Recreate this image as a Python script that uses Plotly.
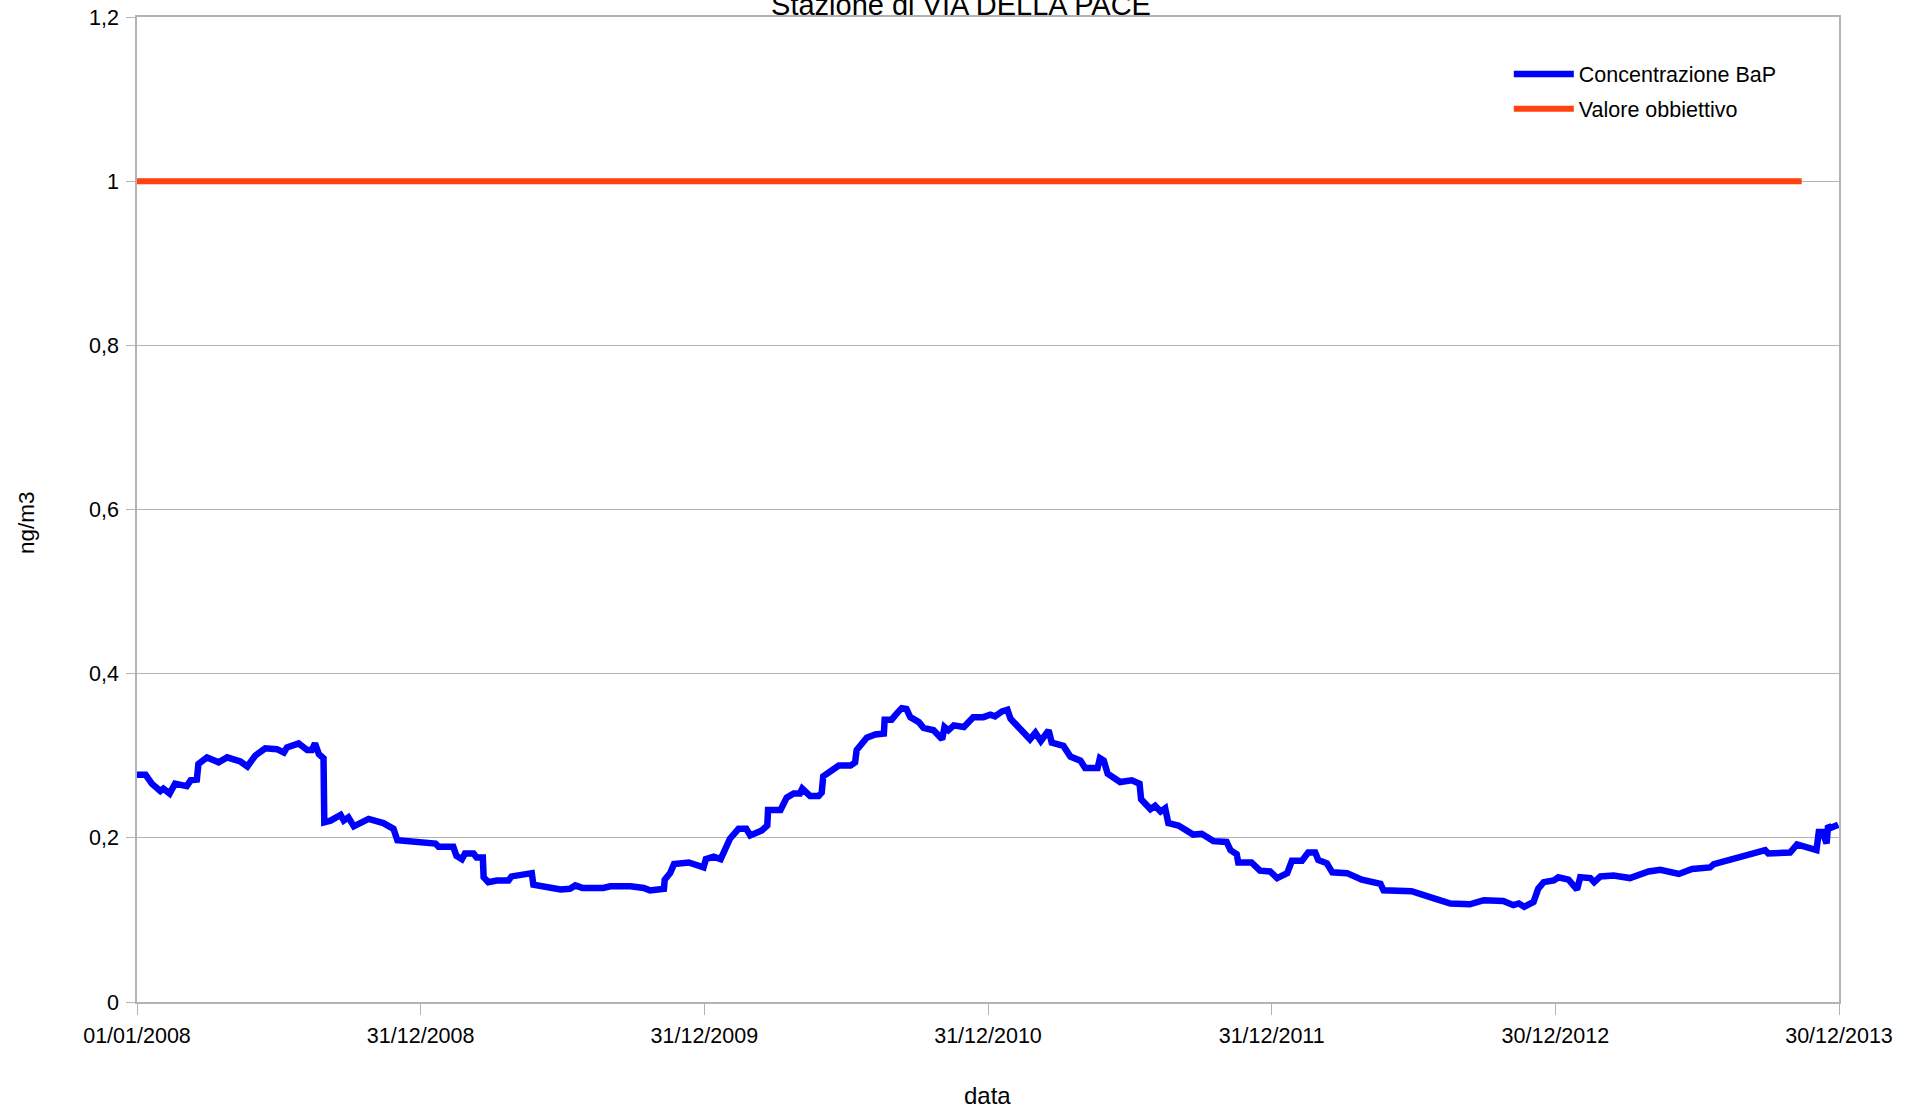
import pandas as pd
import plotly.graph_objects as go

# ---------------- data ----------------
title_text = "Stazione di VIA DELLA PACE"
x_title = "data"
y_title = "ng/m3"
series_names = ["Concentrazione BaP", "Valore obbiettivo"]

start_date = "2008-01-01"

# days elapsed since start_date for each reading of the BaP series
bap_days = [
    0, 11, 19, 30, 34, 42, 49, 64, 69, 77, 79, 90, 105, 116, 133, 142, 152, 165, 180, 189,
    193, 208, 219, 225, 229, 234, 240, 241, 249, 262, 266, 272, 279, 287, 298, 317, 330, 335,
    356, 384, 388, 407, 411, 418, 422, 433, 437, 445, 446, 452, 463, 478, 482, 500, 508, 510,
    528, 545, 557, 564, 573, 600, 609, 635, 652, 660, 678, 679, 686, 691, 710, 729, 732, 742,
    751, 757, 763, 774, 784, 789, 804, 811, 812, 828, 836, 845, 853, 856, 866, 877, 881, 883,
    892, 903, 918, 924, 926, 933, 939, 950, 961, 962, 971, 978, 984, 990, 995, 1006, 1012,
    1025, 1031, 1036, 1039, 1044, 1051, 1064, 1076, 1089, 1098, 1104, 1113, 1120, 1124, 1134,
    1143, 1149, 1156, 1163, 1173, 1177, 1192, 1201, 1214, 1220, 1236, 1239, 1244, 1249, 1265,
    1280, 1290, 1292, 1304, 1310, 1317, 1323, 1327, 1340, 1359, 1370, 1385, 1402, 1407, 1415,
    1417, 1434, 1445, 1458, 1467, 1480, 1486, 1499, 1507, 1516, 1520, 1531, 1538, 1557, 1576,
    1600, 1604, 1625, 1640, 1673, 1690, 1715, 1733, 1758, 1771, 1778, 1785, 1797, 1803, 1810,
    1823, 1829, 1842, 1853, 1857, 1870, 1875, 1883, 1900, 1921, 1945, 1960, 1984, 2001, 2024,
    2029, 2048, 2067, 2082, 2095, 2099, 2127, 2136, 2153, 2161, 2164, 2169, 2174, 2176, 2179,
    2189,
]
bap_values = [
    0.277, 0.277, 0.266, 0.257, 0.260, 0.254, 0.266, 0.263, 0.270, 0.271, 0.290, 0.298, 0.292,
    0.298, 0.293, 0.287, 0.300, 0.309, 0.308, 0.304, 0.310, 0.315, 0.307, 0.307, 0.315, 0.302,
    0.297, 0.219, 0.221, 0.228, 0.221, 0.225, 0.214, 0.218, 0.223, 0.218, 0.211, 0.197, 0.195,
    0.193, 0.189, 0.189, 0.178, 0.174, 0.181, 0.181, 0.176, 0.176, 0.152, 0.146, 0.148, 0.148,
    0.153, 0.156, 0.157, 0.143, 0.139, 0.137, 0.138, 0.142, 0.139, 0.139, 0.141, 0.141, 0.139,
    0.136, 0.138, 0.149, 0.157, 0.168, 0.170, 0.164, 0.174, 0.177, 0.174, 0.189, 0.199, 0.211,
    0.211, 0.203, 0.209, 0.215, 0.234, 0.234, 0.249, 0.254, 0.254, 0.260, 0.251, 0.251, 0.255,
    0.275, 0.280, 0.288, 0.288, 0.292, 0.307, 0.314, 0.322, 0.326, 0.327, 0.344, 0.344, 0.352,
    0.358, 0.357, 0.347, 0.341, 0.334, 0.331, 0.324, 0.320, 0.335, 0.331, 0.337, 0.335, 0.347,
    0.347, 0.350, 0.348, 0.354, 0.356, 0.345, 0.334, 0.324, 0.320, 0.328, 0.318, 0.331, 0.316,
    0.312, 0.299, 0.294, 0.285, 0.285, 0.297, 0.294, 0.278, 0.268, 0.270, 0.266, 0.247, 0.235,
    0.239, 0.232, 0.236, 0.218, 0.215, 0.204, 0.205, 0.196, 0.195, 0.185, 0.180, 0.170, 0.170,
    0.160, 0.159, 0.151, 0.157, 0.172, 0.172, 0.182, 0.182, 0.173, 0.169, 0.158, 0.157, 0.149,
    0.144, 0.136, 0.136, 0.135, 0.125, 0.120, 0.119, 0.124, 0.123, 0.118, 0.120, 0.116, 0.122,
    0.138, 0.146, 0.148, 0.152, 0.149, 0.137, 0.152, 0.151, 0.146, 0.153, 0.154, 0.151, 0.159,
    0.161, 0.156, 0.162, 0.164, 0.168, 0.173, 0.176, 0.182, 0.185, 0.181, 0.182, 0.192, 0.188,
    0.185, 0.207, 0.207, 0.193, 0.215, 0.212, 0.216,
]

target_dates = ["2008-01-01", "2013-11-12"]
target_values = [1.0, 1.0]

x_tick_dates = ["2008-01-01", "2008-12-31", "2009-12-31", "2010-12-31",
                "2011-12-31", "2012-12-30", "2013-12-30"]
x_tick_labels = ["01/01/2008", "31/12/2008", "31/12/2009", "31/12/2010",
                 "31/12/2011", "30/12/2012", "30/12/2013"]
y_tick_values = [0, 0.2, 0.4, 0.6, 0.8, 1.0, 1.2]
y_range = [0, 1.2]

# ---------------- figure ----------------
bap_dates = pd.Timestamp(start_date) + pd.to_timedelta(bap_days, unit="D")

FONT = "Liberation Sans, Arial, sans-serif"
GRID = "#b3b3b3"

fig = go.Figure()
fig.add_trace(go.Scatter(
    x=bap_dates, y=bap_values, mode="lines", name=series_names[0],
    legendgroup="a",
    line=dict(color="#0000ff", width=6.5),
))
fig.add_trace(go.Scatter(
    x=target_dates, y=target_values, mode="lines", name=series_names[1],
    legendgroup="b",
    line=dict(color="#ff420e", width=6),
))

fig.update_layout(
    width=1922, height=1110,
    margin=dict(l=137, r=83, t=17, b=108, autoexpand=False),
    paper_bgcolor="white", plot_bgcolor="white",
    separators=",.",
    font=dict(family=FONT, size=21.5, color="black"),
    title=dict(text=title_text, x=0.5, xanchor="center", xref="container",
               y=1 - 15 / 1110, yanchor="bottom", yref="container",
               font=dict(family=FONT, size=29, color="black")),
    showlegend=True,
    legend=dict(x=0.806, y=0.963, xanchor="left", yanchor="top",
                bgcolor="rgba(0,0,0,0)", font=dict(family=FONT, size=21.5, color="black"),
                itemwidth=60, tracegroupgap=4),
    xaxis=dict(
        type="date", automargin=False,
        range=[x_tick_dates[0], x_tick_dates[-1]],
        tickmode="array", tickvals=x_tick_dates, ticktext=x_tick_labels,
        showgrid=False, zeroline=False,
        showline=True, linecolor=GRID, linewidth=1.5, mirror=True,
        ticks="outside", ticklen=11, tickcolor=GRID, tickwidth=1,
        ticklabelstandoff=2,
        tickfont=dict(family=FONT, size=21.5, color="black"),
    ),
    yaxis=dict(
        range=y_range, automargin=False,
        tickmode="array", tickvals=y_tick_values,
        showgrid=True, gridcolor=GRID, gridwidth=1, zeroline=False,
        showline=True, linecolor=GRID, linewidth=1.5, mirror=True,
        ticks="outside", ticklen=9, tickcolor=GRID, tickwidth=1,
        ticklabelstandoff=3,
        tickfont=dict(family=FONT, size=21.5, color="black"),
    ),
    annotations=[
        dict(text=y_title, xref="paper", yref="paper",
             x=(26 - 137) / 1702, y=(1002 - 523) / 985,
             xanchor="center", yanchor="middle", textangle=-90, showarrow=False,
             font=dict(family=FONT, size=22.5, color="black")),
        dict(text=x_title, xref="paper", yref="paper",
             x=(987 - 137) / 1702, y=(1002 - 1095) / 985,
             xanchor="center", yanchor="middle", showarrow=False,
             font=dict(family=FONT, size=24, color="black")),
    ],
)

fig.write_html("out.html", config={"displayModeBar": False},
               post_script="document.body.style.margin='0';")
